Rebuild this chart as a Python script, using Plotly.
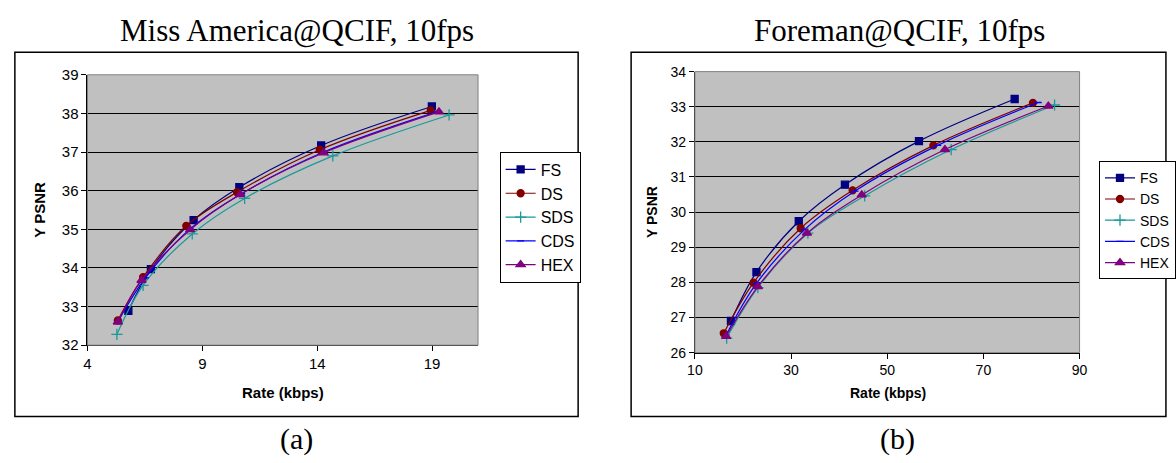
import plotly.graph_objects as go

W, H = 1176, 463

series_names = ["FS", "DS", "SDS", "CDS", "HEX"]

# Miss America@QCIF, 10fps
ma_rate = {
    "FS":  [5.78, 6.76, 8.62, 10.61, 14.17, 18.99],
    "DS":  [5.32, 6.42, 8.30, 10.51, 14.11, 18.94],
    "SDS": [5.28, 6.42, 8.56, 10.84, 14.68, 19.74],
    "CDS": [5.32, 6.52, 8.47, 10.70, 14.28, 19.20],
    "HEX": [5.32, 6.35, 8.47, 10.65, 14.28, 19.30],
}
ma_psnr = {
    "FS":  [32.89, 33.97, 35.24, 36.09, 37.17, 38.18],
    "DS":  [32.64, 33.76, 35.09, 35.96, 37.06, 38.08],
    "SDS": [32.28, 33.55, 34.88, 35.80, 36.90, 37.96],
    "CDS": [32.60, 33.74, 35.01, 35.92, 37.00, 38.04],
    "HEX": [32.60, 33.68, 34.99, 35.90, 36.98, 38.04],
}

# Foreman@QCIF, 10fps
fm_rate = {
    "FS":  [17.5, 22.8, 31.6, 41.2, 56.6, 76.5],
    "DS":  [16.0, 22.2, 32.0, 42.8, 59.6, 80.3],
    "SDS": [16.6, 23.1, 33.5, 45.3, 63.3, 84.8],
    "CDS": [16.5, 22.8, 32.8, 43.3, 60.5, 81.4],
    "HEX": [16.5, 23.1, 33.3, 44.7, 62.0, 83.5],
}
fm_psnr = {
    "FS":  [26.90, 28.29, 29.74, 30.78, 32.02, 33.22],
    "DS":  [26.55, 27.99, 29.54, 30.62, 31.90, 33.11],
    "SDS": [26.41, 27.85, 29.40, 30.46, 31.78, 33.05],
    "CDS": [26.50, 27.97, 29.50, 30.60, 31.90, 33.12],
    "HEX": [26.46, 27.88, 29.40, 30.49, 31.78, 33.02],
}

ma_xticks = [4, 9, 14, 19]
ma_yticks = [32, 33, 34, 35, 36, 37, 38, 39]
fm_xticks = [10, 30, 50, 70, 90]
fm_yticks = [26, 27, 28, 29, 30, 31, 32, 33, 34]

styles = {
    "FS":  dict(color="#000080", symbol="square", size=7),
    "DS":  dict(color="#800000", symbol="circle", size=7),
    "SDS": dict(color="#199999", symbol="cross-thin", size=8),
    "CDS": dict(color="#0000FF", symbol="line-ew", size=5),
    "HEX": dict(color="#800080", symbol="triangle-up", size=8),
}

fig = go.Figure()

def add_series(rate, psnr, xa, ya, legend):
    for n in series_names:
        s = styles[n]
        marker = dict(symbol=s["symbol"], size=s["size"], color=s["color"],
                      line=dict(color=s["color"], width=1.3))
        fig.add_trace(go.Scatter(
            x=rate[n], y=psnr[n], name=n, mode="lines+markers",
            line=dict(color=s["color"], width=1.2, shape="spline", smoothing=1),
            marker=marker, xaxis=xa, yaxis=ya, legend=legend,
        ))

add_series(ma_rate, ma_psnr, "x", "y", "legend")
add_series(fm_rate, fm_psnr, "x2", "y2", "legend2")

def px_x(v):
    return v / W

def px_y(v):
    return 1 - v / H

sans = "Liberation Sans, Arial, sans-serif"
serif = "Liberation Serif, Times New Roman, serif"

common_x = dict(showgrid=False, zeroline=False, showline=True, linecolor="black",
                linewidth=1, ticks="outside", ticklen=5, tickcolor="black",
                tickfont=dict(family=sans, color="black"))
common_y = dict(showgrid=True, gridcolor="black", gridwidth=1, zeroline=False,
                showline=True, linecolor="black", linewidth=1, ticks="outside",
                ticklen=5, tickcolor="black", tickfont=dict(family=sans, color="black"))

fig.update_layout(
    width=W, height=H,
    margin=dict(l=0, r=0, t=0, b=0),
    paper_bgcolor="white",
    plot_bgcolor="#C0C0C0",
    xaxis=dict(common_x, domain=[px_x(81), px_x(479)], range=[4, 21],
               tickvals=ma_xticks, anchor="y", tickfont_size=15),
    yaxis=dict(common_y, domain=[px_y(349), px_y(68.3)], range=[32, 39],
               tickvals=ma_yticks, anchor="x", tickfont_size=15),
    xaxis2=dict(common_x, domain=[px_x(700), px_x(1092)], range=[10, 90],
                tickvals=fm_xticks, anchor="y2", tickfont_size=14),
    yaxis2=dict(common_y, domain=[px_y(356.7), px_y(65)], range=[26, 34],
                tickvals=fm_yticks, anchor="x2", tickfont_size=14),
    legend=dict(x=px_x(501), y=px_y(148), xanchor="left", yanchor="top",
                bordercolor="black", borderwidth=1, bgcolor="white",
                font=dict(family=sans, size=16, color="black"),
                itemwidth=30, tracegroupgap=0),
    legend2=dict(x=px_x(1112), y=px_y(158), xanchor="left", yanchor="top",
                 bordercolor="black", borderwidth=1, bgcolor="white",
                 font=dict(family=sans, size=14, color="black"),
                 itemwidth=30, tracegroupgap=0),
)

shapes = [
    # outer chart boxes
    dict(type="rect", xref="paper", yref="paper", x0=px_x(7), x1=px_x(581),
         y0=px_y(423), y1=px_y(45), line=dict(color="black", width=1.5)),
    dict(type="rect", xref="paper", yref="paper", x0=px_x(635), x1=px_x(1180),
         y0=px_y(423), y1=px_y(45), line=dict(color="black", width=1.5)),
    # plot area borders
    dict(type="rect", xref="x domain", yref="y domain", x0=0, x1=1, y0=0, y1=1,
         line=dict(color="#808080", width=1)),
    dict(type="rect", xref="x2 domain", yref="y2 domain", x0=0, x1=1, y0=0, y1=1,
         line=dict(color="#808080", width=1)),
]
fig.update_layout(shapes=shapes)

annotations = [
    dict(text="Miss America@QCIF, 10fps", x=px_x(294), y=px_y(22), font=dict(family=serif, size=31, color="black")),
    dict(text="Foreman@QCIF, 10fps", x=px_x(908), y=px_y(22), font=dict(family=serif, size=31, color="black")),
    dict(text="(a)", x=px_x(294), y=px_y(446), font=dict(family=serif, size=30, color="black")),
    dict(text="(b)", x=px_x(906), y=px_y(446), font=dict(family=serif, size=30, color="black")),
    dict(text="<b>Rate (kbps)</b>", x=px_x(280), y=px_y(398), font=dict(family=sans, size=15, color="black")),
    dict(text="<b>Rate (kbps)</b>", x=px_x(897), y=px_y(399), font=dict(family=sans, size=14, color="black")),
    dict(text="<b>Y PSNR</b>", x=px_x(32), y=px_y(208), textangle=-90, font=dict(family=sans, size=15, color="black")),
    dict(text="<b>Y PSNR</b>", x=px_x(657), y=px_y(211), textangle=-90, font=dict(family=sans, size=14, color="black")),
]
for a in annotations:
    a.update(xref="paper", yref="paper", showarrow=False, xanchor="center", yanchor="middle")
fig.update_layout(annotations=annotations)

fig.write_html("out.html", config={"displayModeBar": False},
               post_script="document.body.style.margin='0';document.body.style.overflow='hidden';")
